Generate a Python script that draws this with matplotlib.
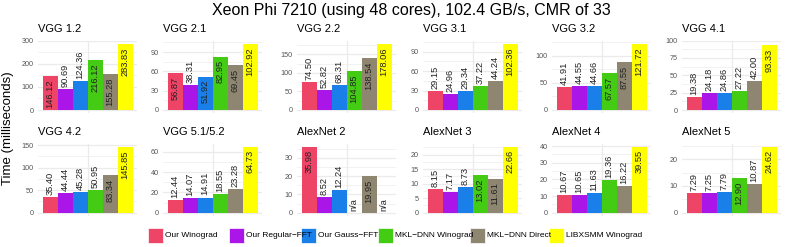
import matplotlib
matplotlib.use("Agg")
import matplotlib.pyplot as plt
import numpy as np
from matplotlib.patches import Rectangle

plt.rcParams['font.family'] = ['Liberation Sans', 'DejaVu Sans']

metodos = ["Our Winograd", "Our Regular\u2212FFT", "Our Gauss\u2212FFT",
           "MKL\u2212DNN Winograd", "MKL\u2212DNN Direct", "LIBXSMM Winograd"]
colores = ["#EE4466", "#AA15E8", "#1A7FE8", "#44CC14", "#8E8670", "#FFFF00"]

capas = ["VGG 1.2", "VGG 2.1", "VGG 2.2", "VGG 3.1", "VGG 3.2", "VGG 4.1",
         "VGG 4.2", "VGG 5.1/5.2", "AlexNet 2", "AlexNet 3", "AlexNet 4", "AlexNet 5"]

vgg12 = [146.12, 90.69, 124.36, 216.12, 155.28, 283.83]
vgg21 = [56.87, 38.31, 51.92, 82.95, 69.45, 102.92]
vgg22 = [74.50, 52.82, 68.31, 104.85, 138.54, 178.06]
vgg31 = [29.15, 24.96, 29.34, 37.22, 44.24, 102.36]
vgg32 = [41.91, 44.55, 44.66, 67.57, 87.55, 121.72]
vgg41 = [19.38, 24.18, 24.86, 27.22, 42.00, 93.33]
vgg42 = [35.40, 44.44, 45.28, 50.95, 83.34, 145.85]
vgg51 = [12.44, 14.07, 14.91, 18.55, 23.28, 64.73]
alex2 = [35.98, 8.52, 12.24, np.nan, 19.95, np.nan]
alex3 = [8.15, 7.17, 8.73, 13.02, 11.61, 22.66]
alex4 = [10.67, 10.65, 11.63, 19.36, 16.22, 39.55]
alex5 = [7.29, 7.25, 7.79, 12.90, 10.87, 24.62]
valores = [vgg12, vgg21, vgg22, vgg31, vgg32, vgg41,
           vgg42, vgg51, alex2, alex3, alex4, alex5]

ticks = [[0, 100, 200, 300], [0, 30, 60, 90], [0, 50, 100, 150], [0, 30, 60, 90],
         [0, 50, 100], [0, 25, 50, 75, 100], [0, 50, 100, 150], [0, 20, 40, 60],
         [0, 10, 20, 30], [0, 5, 10, 15, 20], [0, 10, 20, 30, 40], [0, 10, 20]]

W, H = 789, 247
fig = plt.figure(figsize=(W / 100, H / 100), dpi=100)

izq = [38, 163, 297, 423, 552, 682]
ancho = 99
filas = [(40.5, 113.3), (143.6, 216.0)]
gris = "#EBEBEB"

for k in range(12):
    fila = k // 6
    col = k % 6
    top, bot = filas[fila]
    ax = fig.add_axes([izq[col] / W, 1 - bot / H, ancho / W, (bot - top) / H])
    v = np.array(valores[k], dtype=float)
    m = np.nanmax(v)
    t = ticks[k]
    ytop = max(1.05 * m, t[-1] * 1.002)
    ax.set_xlim(-0.495, 0.495)
    ax.set_ylim(-0.05 * m, ytop)
    # grid
    paso = t[1] - t[0]
    for y in t:
        ax.axhline(y, color=gris, lw=0.9, zorder=0)
    menores = [y + paso / 2 for y in t if y + paso / 2 < ytop]
    for y in menores:
        ax.axhline(y, color=gris, lw=0.45, zorder=0)
    ax.axvline(0, color=gris, lw=0.9, zorder=0)
    xs = -0.375 + 0.15 * np.arange(6)
    ax.bar(xs, np.nan_to_num(v), width=0.15, color=colores, zorder=2)
    for i in range(6):
        if np.isnan(v[i]):
            ax.annotate("n/a", (xs[i], 0), xytext=(0, 1.5), textcoords="offset points",
                        rotation=90, ha="center", va="bottom", fontsize=6.7, color="#222222")
        elif v[i] >= 0.5 * m:
            ax.annotate("%.2f" % v[i], (xs[i], v[i]), xytext=(0, -2.5), textcoords="offset points",
                        rotation=90, ha="center", va="top", fontsize=6.7, color="#222222", zorder=3)
        else:
            ax.annotate("%.2f" % v[i], (xs[i], v[i]), xytext=(0, 1.5), textcoords="offset points",
                        rotation=90, ha="center", va="bottom", fontsize=6.7, color="#222222", zorder=3)
    ax.set_yticks(t)
    ax.set_yticklabels([str(y) for y in t])
    ax.set_xticks([])
    ax.tick_params(axis="y", length=0, pad=3, labelsize=5.2, labelcolor="#555555")
    for s in ax.spines.values():
        s.set_visible(False)
    ax.set_title(capas[k], loc="left", fontsize=8, pad=6)

fig.text(411 / W, 1 - 15 / H, "Xeon Phi 7210 (using 48 cores), 102.4 GB/s, CMR of 33",
         ha="center", va="baseline", fontsize=11.5)
fig.text(8 / W, 1 - 128 / H, "Time (milliseconds)", rotation=90,
         ha="center", va="center", fontsize=9.5)

# leyenda
llave_x = [148, 229, 301, 378, 470, 549]
for i in range(6):
    fig.add_artist(Rectangle((llave_x[i] / W, 1 - 243 / H), 15 / W, 15 / H,
                             transform=fig.transFigure, facecolor=colores[i],
                             edgecolor="white", lw=0.5))
    fig.text((llave_x[i] + 17) / W, 1 - 235.5 / H, metodos[i], ha="left", va="center",
             fontsize=6)

fig.savefig("out.png", dpi=100)
